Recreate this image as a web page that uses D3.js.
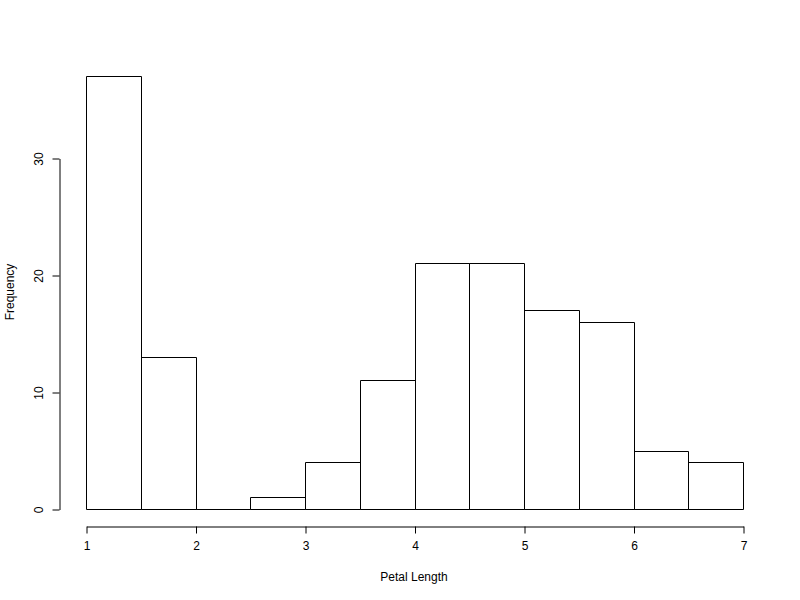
<!DOCTYPE html>
<html>
<head>
<meta charset="utf-8">
<script src="https://cdn.jsdelivr.net/npm/d3@7"></script>
<style>
  body { margin: 0; background: #fff; }
  text { font-family: "Liberation Sans", Arial, sans-serif; font-size: 12px; fill: #000; }
</style>
</head>
<body>
<svg id="chart" width="800" height="600"></svg>
<script>
// histogram of petal length, bins of 0.5
const breaks = [1, 1.5, 2, 2.5, 3, 3.5, 4, 4.5, 5, 5.5, 6, 6.5, 7];
const counts = [37, 13, 0, 1, 4, 11, 21, 21, 17, 16, 5, 4];
const xTicks = [1, 2, 3, 4, 5, 6, 7];
const yTicks = [0, 10, 20, 30];

const svg = d3.select("#chart");

const x = d3.scaleLinear().domain([1, 7]).range([86, 743]);
const y = d3.scaleLinear().domain([0, 30]).range([509, 158]);

const bins = counts.map((c, i) => ({ x0: breaks[i], x1: breaks[i + 1], n: c }));

// paths so that empty bins still show as a flat line
svg.append("g")
  .selectAll("path")
  .data(bins)
  .enter()
  .append("path")
  .attr("d", d => {
    const x0 = Math.round(x(d.x0)) + 0.5, x1 = Math.round(x(d.x1)) + 0.5;
    const y0 = Math.round(y(0)) + 0.5, y1 = Math.round(y(d.n)) + 0.5;
    return `M${x0},${y0}L${x0},${y1}L${x1},${y1}L${x1},${y0}Z`;
  })
  .attr("fill", "none")
  .attr("stroke", "#000")
  .attr("stroke-width", 1);

// x axis
const xAxis = svg.append("g")
  .attr("transform", "translate(0.5,526.5)")
  .call(d3.axisBottom(x).tickValues(xTicks).tickFormat(d3.format("d"))
    .tickSize(7).tickPadding(8).tickSizeOuter(0));
xAxis.select(".domain").attr("stroke", "#000");
xAxis.selectAll(".tick line").attr("stroke", "#000");
xAxis.selectAll("text").style("font-size", "12px").attr("fill", "#000");

// y axis
const yAxis = svg.append("g")
  .attr("transform", "translate(59.5,0.5)")
  .call(d3.axisLeft(y).tickValues(yTicks).tickFormat(d3.format("d"))
    .tickSize(7).tickSizeOuter(0));
yAxis.select(".domain").attr("stroke", "#000");
yAxis.selectAll(".tick line").attr("stroke", "#000");
yAxis.selectAll("text")
  .attr("x", null).attr("dy", null)
  .attr("text-anchor", "middle")
  .attr("transform", "translate(-17,0) rotate(-90)")
  .style("font-size", "12px").attr("fill", "#000");

svg.append("text")
  .attr("x", 414).attr("y", 581)
  .attr("text-anchor", "middle")
  .text("Petal Length");

svg.append("text")
  .attr("transform", "translate(14,292) rotate(-90)")
  .attr("text-anchor", "middle")
  .text("Frequency");
</script>
</body>
</html>
